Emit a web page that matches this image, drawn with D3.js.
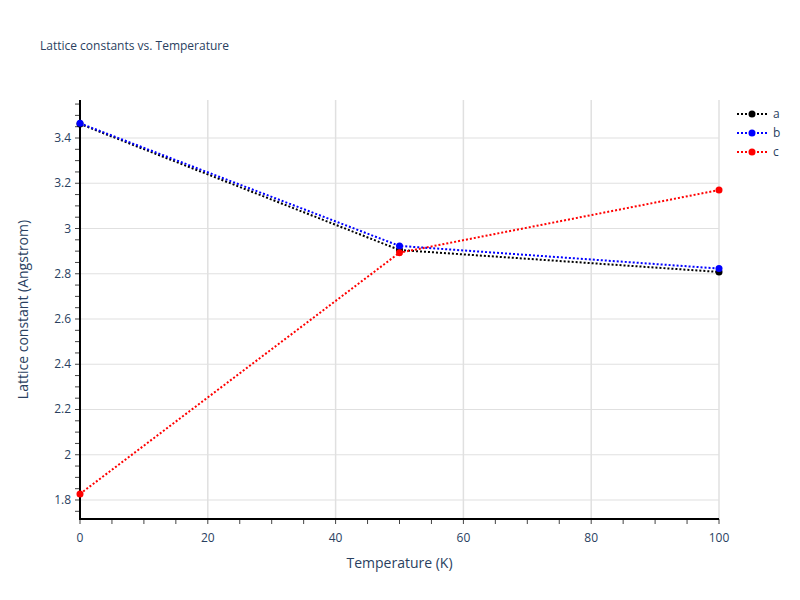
<!DOCTYPE html>
<html><head><meta charset="utf-8">
<script src="https://cdn.jsdelivr.net/npm/d3@7"></script>
<style>body{margin:0;background:#fff}text{font-family:"Open Sans",Verdana,Arial,sans-serif}</style>
</head><body><svg id="c" width="800" height="600"></svg>
<script>
const temps = [0, 50, 100];
const seriesNames = ["a", "b", "c"];
const seriesColors = ["black", "blue", "red"];
const aValues = [3.462, 2.905, 2.808];
const bValues = [3.465, 2.923, 2.823];
const cValues = [1.827, 2.893, 3.170];
const xTicks = [0, 20, 40, 60, 80, 100];
const yTicks = [1.8, 2, 2.2, 2.4, 2.6, 2.8, 3, 3.2, 3.4];
const allSeries = [aValues, bValues, cValues];

const svg = d3.select("#c");
const L = 80, R = 719, T = 100, B = 519;
const x = d3.scaleLinear().domain([0, 100]).range([L, R]);
const y = d3.scaleLinear().domain([1.716, 3.568]).range([B, T]);
const grid = "#e0e0e0", tc = "#444";

svg.append("g").selectAll("line").data(xTicks.slice(1)).join("line")
  .attr("x1", d => x(d)).attr("x2", d => x(d)).attr("y1", T).attr("y2", B)
  .attr("stroke", grid).attr("stroke-width", 1.5);
svg.append("g").selectAll("line").data(yTicks).join("line")
  .attr("x1", L).attr("x2", R).attr("y1", d => y(d)).attr("y2", d => y(d))
  .attr("stroke", grid).attr("stroke-width", 1.2);

// minor ticks
const yMinor = d3.range(1.75, 3.56, 0.05);
svg.append("g").selectAll("line").data(yMinor).join("line")
  .attr("x1", L - 5).attr("x2", L).attr("y1", d => y(d)).attr("y2", d => y(d))
  .attr("stroke", "#444");
const xMinor = d3.range(0, 101, 5);
svg.append("g").selectAll("line").data(xMinor).join("line")
  .attr("x1", d => x(d)).attr("x2", d => x(d)).attr("y1", B).attr("y2", B + 5)
  .attr("stroke", "#444");

svg.append("line").attr("x1", L).attr("x2", L).attr("y1", T).attr("y2", B + 1).attr("stroke", "black").attr("stroke-width", 2);
svg.append("line").attr("x1", L - 1).attr("x2", R).attr("y1", B).attr("y2", B).attr("stroke", "black").attr("stroke-width", 2);

svg.append("g").selectAll("text").data(xTicks).join("text")
  .attr("x", d => x(d)).attr("y", B + 23).attr("text-anchor", "middle")
  .attr("font-size", 12).attr("fill", "#2a3f5f").text(d => d);
svg.append("g").selectAll("text").data(yTicks).join("text")
  .attr("x", L - 9).attr("y", d => y(d) + 4).attr("text-anchor", "end")
  .attr("font-size", 12).attr("fill", "#2a3f5f").text(d => d);

allSeries.forEach((vals, i) => {
  const pts = temps.map((t, j) => [t, vals[j]]);
  svg.append("path").datum(pts)
    .attr("d", d3.line().x(d => x(d[0])).y(d => y(d[1])))
    .attr("fill", "none").attr("stroke", seriesColors[i]).attr("stroke-width", 2)
    .attr("stroke-dasharray", "2,2");
  svg.append("g").selectAll("circle").data(pts).join("circle")
    .attr("cx", d => x(d[0])).attr("cy", d => y(d[1])).attr("r", 3.5)
    .attr("fill", seriesColors[i]);
});

svg.append("text").attr("x", 40).attr("y", 50).attr("font-size", 12).attr("fill", "#2a3f5f")
  .text("Lattice constants vs. Temperature");
svg.append("text").attr("x", (L + R) / 2).attr("y", 568).attr("text-anchor", "middle")
  .attr("font-size", 14).attr("fill", "#2a3f5f").text("Temperature (K)");
svg.append("text").attr("transform", `translate(28,${(T + B) / 2}) rotate(-90)`)
  .attr("text-anchor", "middle").attr("font-size", 14).attr("fill", "#2a3f5f")
  .text("Lattice constant (Angstrom)");

const leg = svg.append("g");
seriesNames.forEach((n, i) => {
  const ly = 114 + i * 19;
  leg.append("line").attr("x1", 737).attr("x2", 767).attr("y1", ly).attr("y2", ly)
    .attr("stroke", seriesColors[i]).attr("stroke-width", 2).attr("stroke-dasharray", "2,2");
  leg.append("circle").attr("cx", 752).attr("cy", ly).attr("r", 3.5).attr("fill", seriesColors[i]);
  leg.append("text").attr("x", 773).attr("y", ly + 4).attr("font-size", 12).attr("fill", "#2a3f5f").text(n);
});
</script></body></html>
